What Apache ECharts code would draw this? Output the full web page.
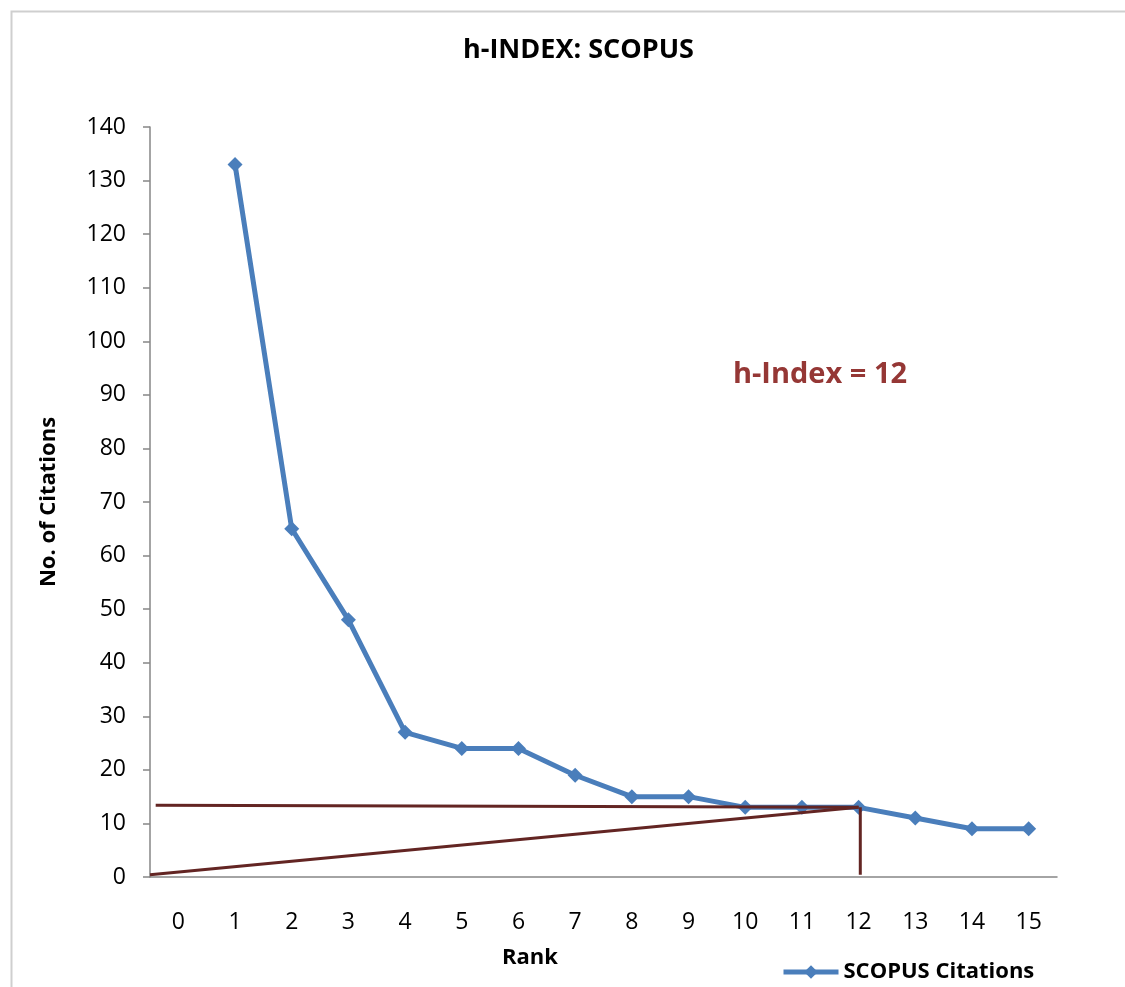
<!DOCTYPE html>
<html>
<head>
<meta charset="utf-8">
<script src="https://cdn.jsdelivr.net/npm/echarts@6/dist/echarts.min.js"></script>
<style>
html,body{margin:0;padding:0;background:#fff;}
#chart{width:1125px;height:987px;}
</style>
</head>
<body>
<div id="chart"></div>
<script>
var ranks = ['0','1','2','3','4','5','6','7','8','9','10','11','12','13','14','15'];
var citations = [null,133,65,48,27,24,24,19,15,15,13,13,13,11,9,9];
var hIndex = 12;
var hLine = [[-0.4,13.4],[12,13]];
var diagLine = [[-0.5,0.4],[12,13]];
var vertLine = [[12.03,13],[12.03,0.4]];

var FONT = '"Open Sans", "Noto Sans", sans-serif';
var chart = echarts.init(document.getElementById('chart'), null, {renderer:'canvas'});
var redLine = {type:'line', xAxisIndex:1, yAxisIndex:0, symbol:'none', silent:true,
  lineStyle:{color:'#632523', width:3}, z:3};
chart.setOption({
  animation:false,
  backgroundColor:'#ffffff',
  title:{text:'h-INDEX: SCOPUS', left:458, top:32,
    textStyle:{fontFamily:FONT, fontSize:27, fontWeight:'bold', color:'#000'}},
  grid:{left:150, right:68, top:127, bottom:110},
  legend:{data:['SCOPUS Citations'], left:776, top:956, itemWidth:55, itemHeight:17, itemGap:4,
    lineStyle:{width:5},
    textStyle:{fontFamily:FONT, fontSize:22, fontWeight:'bold', color:'#000'}},
  xAxis:[{type:'category', data:ranks, boundaryGap:true,
    axisLine:{onZero:false, lineStyle:{color:'#868686', width:1.5}},
    axisTick:{show:false},
    axisLabel:{margin:34, fontFamily:FONT, fontSize:23, color:'#000'},
    splitLine:{show:false}},
    {type:'value', min:-0.5, max:15.5, show:false}],
  yAxis:{type:'value', min:0, max:140, interval:10,
    name:'No. of Citations', nameLocation:'middle', nameGap:90, nameRotate:90,
    nameTextStyle:{fontFamily:FONT, fontSize:22, fontWeight:'bold', color:'#000'},
    axisLine:{show:true, onZero:false, lineStyle:{color:'#868686', width:1.5}},
    axisTick:{show:true, inside:false, length:7, lineStyle:{color:'#868686', width:1.5}},
    axisLabel:{margin:24, fontFamily:FONT, fontSize:23, color:'#000'},
    splitLine:{show:false}},
  graphic:[
    {type:'rect', left:9, top:9, shape:{width:1200, height:1200}, silent:true,
      style:{fill:null, stroke:'#cfcfcf', lineWidth:2}},
    {type:'text', x:530, y:958, silent:true,
      style:{text:'Rank', fontFamily:FONT, fontSize:22, fontWeight:'bold', fill:'#000', align:'center', verticalAlign:'middle'}},
    {type:'text', x:820, y:375, silent:true,
      style:{text:'h-Index = ' + hIndex, fontFamily:FONT, fontSize:29, fontWeight:'bold', fill:'#953735', align:'center', verticalAlign:'middle'}}
  ],
  series:[
    {name:'SCOPUS Citations', type:'line', data:citations, symbol:'diamond', symbolSize:15,
      connectNulls:false,
      lineStyle:{color:'#4a7ebb', width:5}, itemStyle:{color:'#4a7ebb'}, z:2},
    Object.assign({name:'hLine', data:hLine}, redLine),
    Object.assign({name:'diagLine', data:diagLine}, redLine),
    Object.assign({name:'vertLine', data:vertLine}, redLine)
  ]
});
</script>
</body>
</html>
